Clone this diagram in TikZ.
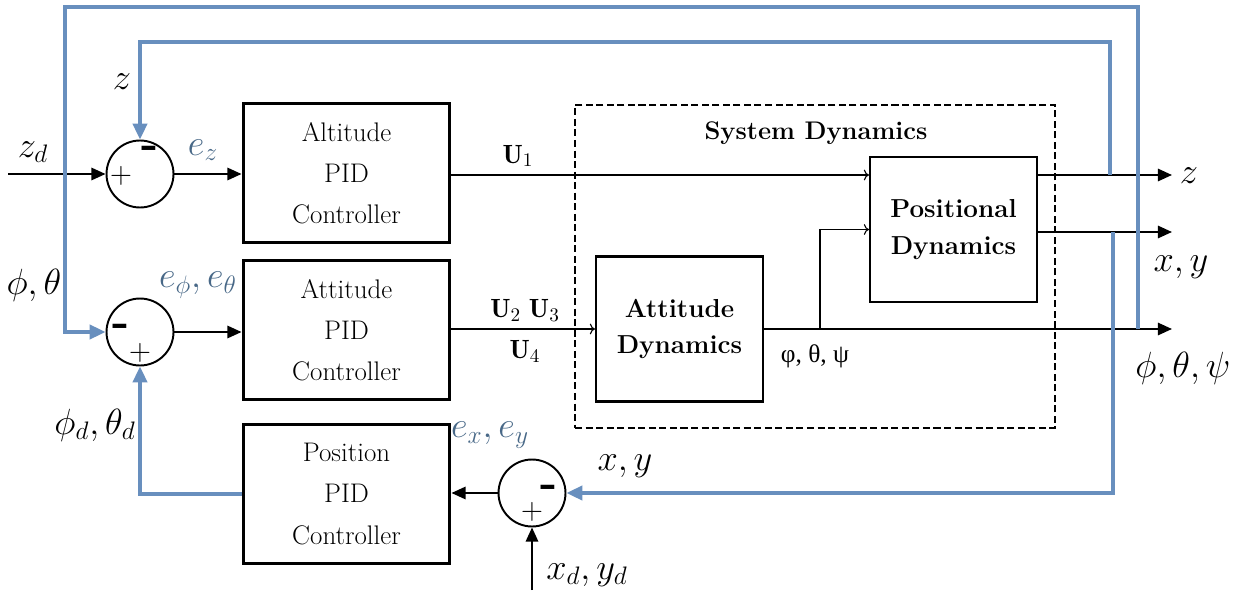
\documentclass[tikz,border=0pt]{standalone}
\usepackage{fontspec}
\usepackage{amsmath}
\usetikzlibrary{arrows.meta}
\newfontfamily\grk{Liberation Serif}
\definecolor{fbblue}{RGB}{104,143,190}
\definecolor{errblue}{RGB}{72,104,135}
\begin{document}
\begin{tikzpicture}[x=0.02cm,y=-0.02cm, every node/.style={font=\fontsize{21.5}{24}\selectfont}]
  \tikzstyle{ctrl}=[draw,line width=1.7pt,minimum width=4.14cm,minimum height=2.8cm,align=center,font=\fontsize{15.3}{23.5}\selectfont]
  \tikzstyle{dyn}=[draw,line width=1.2pt,minimum width=3.34cm,minimum height=2.9cm,align=center,font=\fontsize{14.8}{21}\selectfont\bfseries]
  \tikzstyle{sum}=[draw,circle,line width=1.1pt,minimum size=1.34cm,inner sep=0pt]
  \tikzstyle{sig}=[line width=1.1pt,-{Triangle[length=8pt,width=7pt]}]
  \tikzstyle{thinsig}=[line width=0.6pt,->]
  \tikzstyle{fb}=[fbblue,line width=2pt,-{Triangle[length=9pt,width=8pt]}]
  \tikzstyle{minus}=[font=\fontsize{26}{26}\selectfont\bfseries,inner sep=0pt]
  \tikzstyle{plus}=[font=\fontsize{18}{18}\selectfont,inner sep=0pt]
  \useasboundingbox (0,0) rectangle (1234,598);

  % controllers
  \node[ctrl] (alt) at (346.5,173) {Altitude\\PID\\Controller};
  \node[ctrl] (att) at (346.5,330) {Attitude\\PID\\Controller};
  \node[ctrl] (pctrl) at (346.5,494) {Position\\PID\\Controller};

  % summing junctions
  \node[sum] (s1) at (140,174) {};
  \node[sum] (s2) at (140,332) {};
  \node[sum] (s3) at (532,493) {};
  \node[plus] (s1p) at (121,176) {$+$};
  \node[minus] (s1m) at (150,152) {-};
  \node[minus] (s2m) at (121,330) {-};
  \node[plus] (s2p) at (140,353) {$+$};
  \node[minus] (s3m) at (549,491) {-};
  \node[plus] (s3p) at (532,512) {$+$};

  % plant
  \node[draw,dashed,line width=1.2pt,dash pattern=on 4pt off 2pt,minimum width=9.6cm,minimum height=6.46cm] (sys) at (815,266.5) {};
  \node[font=\fontsize{14.5}{17}\selectfont\bfseries] (systxt) at (816,133) {System Dynamics};
  \node[dyn] (adyn) at (679.5,329) {Attitude\\Dynamics};
  \node[dyn] (pdyn) at (953.5,229.5) {Positional\\Dynamics};

  \coordinate (zin) at (8,174);
  \coordinate (xdin) at (532,590);
  \coordinate (out1) at (1172,175);
  \coordinate (out2) at (1172,232);
  \coordinate (out3) at (1172,329);
  \coordinate (br) at (820,329);

  % forward path
  \draw[sig] (zin) -- (s1.west);
  \draw[sig] (s1.east) -- (s1.east -| alt.west);
  \draw[sig] (s2.east) -- (s2.east -| att.west);
  \draw[sig] (s3.west) -- (s3.west -| pctrl.east);
  \draw[sig] (xdin) -- (s3.south);
  \draw[thinsig] (alt.east |- out1) -- (out1 -| pdyn.west);
  \draw[thinsig] (att.east |- adyn.west) -- (adyn.west);
  \draw[thinsig] (br) |- (pdyn.west);
  \draw[sig] (adyn.east) -- (out3);
  \draw[sig] (pdyn.east |- out1) -- (out1);
  \draw[sig] (pdyn.east |- out2) -- (out2);

  % feedback
  \coordinate (fbz) at (1110,175);
  \coordinate (fbxy) at (1113,232);
  \coordinate (fbang) at (1138,329);
  \draw[fb] (fbz) |- (140,42) -- (s1.north);
  \draw[fb] (fbang) |- (65,7) |- (s2.west);
  \draw[fb] (fbxy) |- (s3.east);
  \draw[fb] (pctrl.west) -| (s2.south);

  % labels
  \node (lz) at (122,82) {$z$};
  \node (lzd) at (33,152) {$z_d$};
  \node[errblue] (lez) at (203,150) {$e_z$};
  \node (lpt) at (34,285) {$\phi,\theta$};
  \node[errblue] (lept) at (198,285) {$e_\phi,e_\theta$};
  \node (lptd) at (95,425) {$\phi_d,\theta_d$};
  \node[errblue] (lexy) at (490,435) {$e_x,e_y$};
  \node (lxy) at (625,466) {$x,y$};
  \node (lxyd) at (587,575) {$x_d,y_d$};
  \node[font=\fontsize{15}{16}\selectfont] (lu1) at (518,156) {$\mathbf{U}_1$};
  \node[font=\fontsize{15}{23}\selectfont,align=center] (lu24) at (525,331) {$\mathbf{U}_2\ \mathbf{U}_3$\\$\mathbf{U}_4$};
  \node[font=\fontsize{14.5}{16}\selectfont\grk] (lang) at (815,356) {φ, θ, ψ};
  \node (loz) at (1189,176) {$z$};
  \node (loxy) at (1181,267) {$x,y$};
  \node (loang) at (1183,368) {$\phi,\theta,\psi$};
\end{tikzpicture}
\end{document}
